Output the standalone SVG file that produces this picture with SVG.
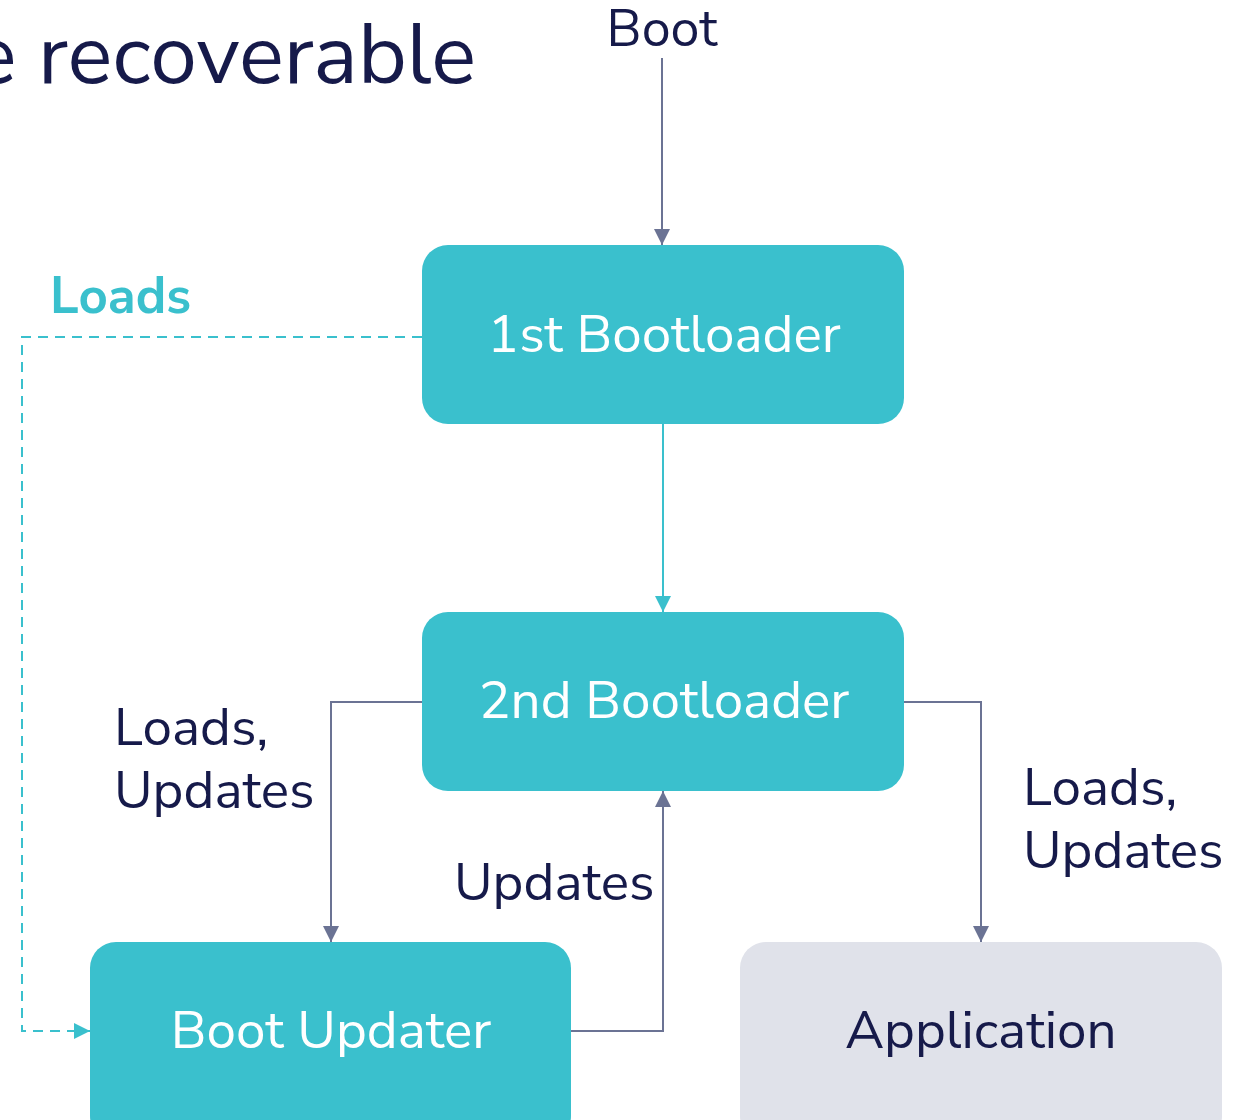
<svg xmlns="http://www.w3.org/2000/svg" width="1241" height="1120" viewBox="0 0 1241 1120">
  <style>
    .t { font-family: "Nunito Sans", "Open Sans", "Noto Sans", sans-serif; }
    .dark { fill: #161a4a; }
    .white { fill: #ffffff; }
    .node { fill: #3ac0cd; }
    .app { fill: #e0e2ea; }
    .grey { fill: none; stroke: #6b7394; stroke-width: 2; }
    .teal { fill: none; stroke: #3ac0cd; stroke-width: 2; }
    .dash { fill: none; stroke: #3ac0cd; stroke-width: 2; stroke-dasharray: 10 7; }
  </style>
  <defs>
    <marker id="ag" viewBox="0 0 10 10" refX="10" refY="5" markerWidth="16" markerHeight="16" markerUnits="userSpaceOnUse" orient="auto">
      <path d="M0,0 L10,5 L0,10 z" fill="#6b7394"/>
    </marker>
    <marker id="at" viewBox="0 0 10 10" refX="10" refY="5" markerWidth="16" markerHeight="16" markerUnits="userSpaceOnUse" orient="auto">
      <path d="M0,0 L10,5 L0,10 z" fill="#3ac0cd"/>
    </marker>
  </defs>
  <rect width="1241" height="1120" fill="#ffffff"/>

  <!-- heading, clipped by the page edge -->
  <text class="t dark" x="476" y="83" font-size="84" text-anchor="end">e recoverable</text>

  <g id="connectors">
    <path class="grey" d="M662,58 V245" marker-end="url(#ag)"/>
    <path class="teal" d="M663,424 V612" marker-end="url(#at)"/>
    <path class="dash" d="M422,337 H22 V1031 H90" marker-end="url(#at)"/>
    <path class="grey" d="M422,702 H331 V942" marker-end="url(#ag)"/>
    <path class="grey" d="M571,1031 H663 V791" marker-end="url(#ag)"/>
    <path class="grey" d="M904,702 H981 V942" marker-end="url(#ag)"/>
  </g>

  <g id="labels">
    <text class="t dark" x="662" y="46" font-size="52" text-anchor="middle">Boot</text>
    <text class="t" x="50" y="313" font-size="51" font-weight="bold" fill="#3ac0cd">Loads</text>
    <text class="t dark" font-size="53"><tspan x="114" y="745">Loads,</tspan><tspan x="114" y="808">Updates</tspan></text>
    <text class="t dark" x="454" y="900" font-size="53">Updates</text>
    <text class="t dark" font-size="53"><tspan x="1023" y="805">Loads,</tspan><tspan x="1023" y="868">Updates</tspan></text>
  </g>

  <g id="first-bootloader">
    <rect class="node" x="422" y="245" width="482" height="179" rx="26"/>
    <text class="t white" x="664" y="352" font-size="53" text-anchor="middle">1st Bootloader</text>
  </g>

  <g id="second-bootloader">
    <rect class="node" x="422" y="612" width="482" height="179" rx="26"/>
    <text class="t white" x="664" y="718" font-size="53" text-anchor="middle">2nd Bootloader</text>
  </g>

  <g id="boot-updater">
    <rect class="node" x="90" y="942" width="481" height="200" rx="26"/>
    <text class="t white" x="331" y="1048" font-size="53" text-anchor="middle">Boot Updater</text>
  </g>

  <g id="application">
    <rect class="app" x="740" y="942" width="482" height="200" rx="26"/>
    <text class="t dark" x="981" y="1048" font-size="53" text-anchor="middle">Application</text>
  </g>
</svg>
